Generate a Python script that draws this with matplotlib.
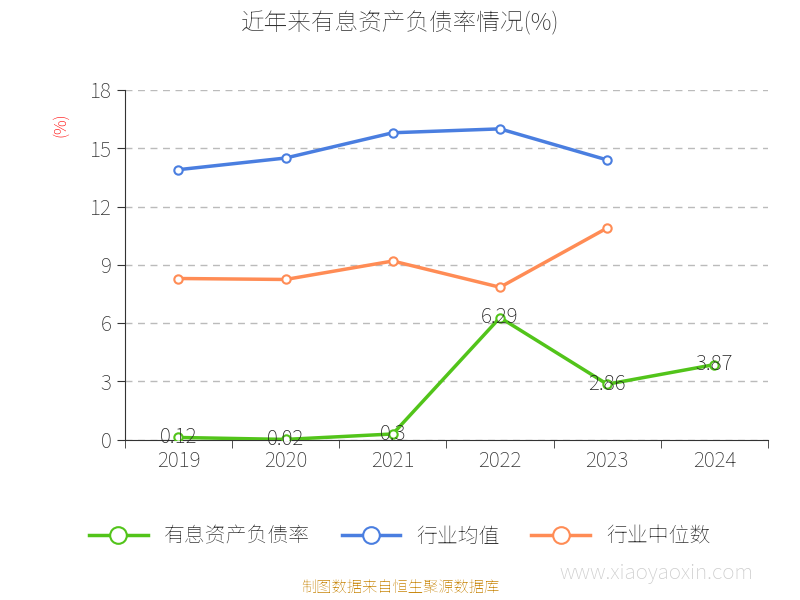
import matplotlib
matplotlib.use("Agg")
import matplotlib.pyplot as plt
from matplotlib import font_manager as fm

names = sorted({f.name for f in fm.fontManager.ttflist})
cjk = [n for n in ["Noto Sans CJK SC", "Noto Sans SC", "Noto Sans CJK JP", "Noto Sans CJK TC", "Noto Sans CJK KR"] if n in names]
cjk += [n for n in names if "CJK" in n and n not in cjk]
plt.rcParams["font.family"] = cjk + ["DejaVu Sans"]

years = ["2019", "2020", "2021", "2022", "2023", "2024"]
company = [0.12, 0.02, 0.3, 6.29, 2.86, 3.87]
company_labels = ["0.12", "0.02", "0.3", "6.29", "2.86", "3.87"]
industry_avg = [13.9, 14.5, 15.8, 16.0, 14.4]
industry_median = [8.3, 8.25, 9.2, 7.85, 10.9]
yticks = [0, 3, 6, 9, 12, 15, 18]

fig = plt.figure(figsize=(8, 6), dpi=100)
ax = fig.add_axes([0.156, 0.267, 0.804, 0.583])
x = list(range(len(years)))
green, blue, orange = "#52c41a", "#4a7ee0", "#ff8c55"
ax.plot(x, company, color=green, lw=2.5, marker="o", ms=6, mfc="white", mew=1.5, label="有息资产负债率", zorder=3)
ax.plot(x[:len(industry_avg)], industry_avg, color=blue, lw=2.5, marker="o", ms=6, mfc="white", mew=1.5, label="行业均值", zorder=3)
ax.plot(x[:len(industry_median)], industry_median, color=orange, lw=2.5, marker="o", ms=6, mfc="white", mew=1.5, label="行业中位数", zorder=3)
for xi, v, t in zip(x, company, company_labels):
    ax.text(xi, v, t, ha="center", va="center", fontsize=15, color="#222222", zorder=4)

ax.set_xlim(-0.5, 5.5)
ax.set_ylim(0, 18)
ax.set_yticks(yticks)
ax.set_xticks(x)
ax.set_xticklabels(years)
ax.set_xticks([i - 0.5 for i in range(7)], minor=True)
ax.tick_params(axis="x", which="major", length=0, labelsize=15, colors="#333333", pad=8)
ax.tick_params(axis="x", which="minor", length=6, color="#333333")
ax.tick_params(axis="y", labelsize=15, colors="#333333", length=6)
ax.grid(axis="y", ls=(0, (5, 4)), color="#bbbbbb", lw=1)
for s in ["top", "right"]:
    ax.spines[s].set_visible(False)
ax.spines["left"].set_color("#333333")
ax.spines["bottom"].set_color("#333333")
ax.text(-0.1, 0.9, "(%)", transform=ax.transAxes, rotation=90, color="red", fontsize=12, ha="center", va="center")

fig.text(0.5, 0.96, "近年来有息资产负债率情况(%)", ha="center", va="center", fontsize=17, fontweight="bold", color="#333333")
fig.legend(loc="center", bbox_to_anchor=(0.5, 0.105), ncol=3, frameon=False, fontsize=15,
           handlelength=2.8, columnspacing=1.5, labelcolor="#333333", markerscale=2.0)
fig.text(0.5, 0.018, "制图数据来自恒生聚源数据库", ha="center", va="center", fontsize=11, color="#c8860a")
fig.text(0.82, 0.045, "www.xiaoyaoxin.com", ha="center", va="center", fontsize=15, color="#cccccc")
fig.savefig("out.png", dpi=100)
